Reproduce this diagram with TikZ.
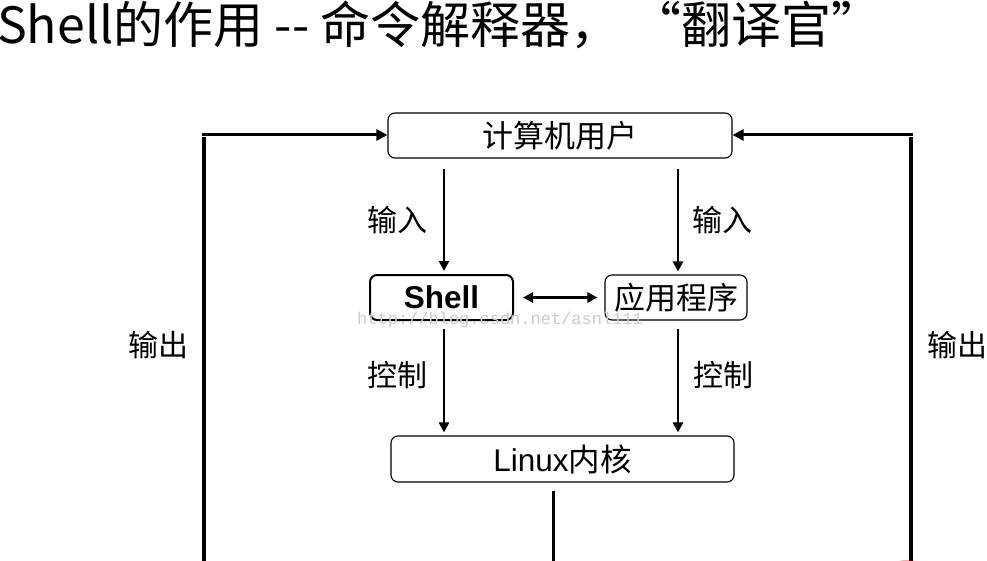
\documentclass[tikz,border=0pt]{standalone}
\usepackage{fontspec}
\setmainfont{Liberation Sans}
\newfontfamily\cjk{Noto Sans CJK SC}
\newfontfamily\wmfont{Liberation Mono}
\usetikzlibrary{arrows.meta}
\tikzset{
  box/.style={draw=black, line width=1.1pt, rounded corners=7pt, inner sep=0pt, fill=white},
  boxtxt/.style={font=\fontsize{31}{34}\selectfont\cjk},
  lbl/.style={font=\fontsize{30}{34}\selectfont\cjk, inner sep=0pt},
  arr/.style={line width=2.6pt, -{Triangle[length=10pt,width=10pt]}},
  darr/.style={line width=2.6pt, {Triangle[length=10pt,width=10pt]}-{Triangle[length=10pt,width=10pt]}},
  sideline/.style={line width=4pt},
  sidearr/.style={line width=3pt, -{Triangle[length=11pt,width=11pt]}},
}
\begin{document}
\begin{tikzpicture}[x=1pt,y=-1pt]
\clip (0,0) rectangle (987,561);
\fill[white] (0,0) rectangle (987,561);

% title
\node[anchor=base west, inner sep=0pt, font=\fontsize{50}{54}\selectfont\cjk] (title) at (-3,44) {Shell的作用 -- 命令解释器， “翻译官”};

% boxes
\node[box, minimum width=344pt, minimum height=45pt, boxtxt] (user) at (560,135.5) {计算机用户};
\node[box, line width=2pt, minimum width=143pt, minimum height=45pt, font=\fontsize{31.5}{34}\selectfont\bfseries] (shell) at (441.5,297.5) {Shell};
\node[box, minimum width=142pt, minimum height=45pt, boxtxt] (app) at (676,297.5) {应用程序};
\node[box, minimum width=343pt, minimum height=46pt, font=\fontsize{31.5}{34}\selectfont] (kernel) at (562.5,459) {Linux{\cjk 内核}};

% helper coordinates
\coordinate (cL) at (444,0);
\coordinate (cR) at (678,0);
\coordinate (cK) at (553,0);
\coordinate (botK) at (553,600);
\coordinate (botL) at (204,600);
\coordinate (botR) at (911,600);
\coordinate (cornL) at (204,135);
\coordinate (cornR) at (911,135);

% arrows
\draw[arr, shorten <=10pt, shorten >=3pt] (user.south -| cL) -- (shell.north -| cL);
\draw[arr, shorten <=10pt, shorten >=3pt] (user.south -| cR) -- (app.north -| cR);
\draw[darr, shorten <=9pt, shorten >=7pt] (shell.east) -- (app.west);
\draw[arr, shorten <=8pt, shorten >=3pt] (shell.south -| cL) -- (kernel.north -| cL);
\draw[arr, shorten <=8pt, shorten >=3pt] (app.south -| cR) -- (kernel.north -| cR);
\draw[arr, line width=3pt, shorten <=8pt] (kernel.south -| cK) -- (botK);

% side output lines
\draw[sideline] (botL) -- ([yshift=-2pt]cornL);
\draw[sidearr] ([xshift=-2pt]cornL) -- (user.west |- cornL);
\draw[sideline] (botR) -- ([yshift=-2pt]cornR);
\draw[sidearr] ([xshift=2pt]cornR) -- (user.east |- cornR);

% labels
\node[lbl] (in1) at (397,220) {输入};
\node[lbl] (in2) at (722,220) {输入};
\node[lbl] (ct1) at (397,375) {控制};
\node[lbl] (ct2) at (723,375) {控制};
\node[lbl] (out1) at (158,345) {输出};
\node[lbl] (out2) at (957,345) {输出};

% watermark
\node[anchor=base west, inner sep=0pt, text=black!20, font=\fontsize{17}{20}\selectfont\wmfont] (wm) at (357,324) {http://blog.csdn.net/asnl111};

% red pointer spot
\fill[red, opacity=0.35] (907,567) ellipse (15pt and 7pt);
\end{tikzpicture}
\end{document}
